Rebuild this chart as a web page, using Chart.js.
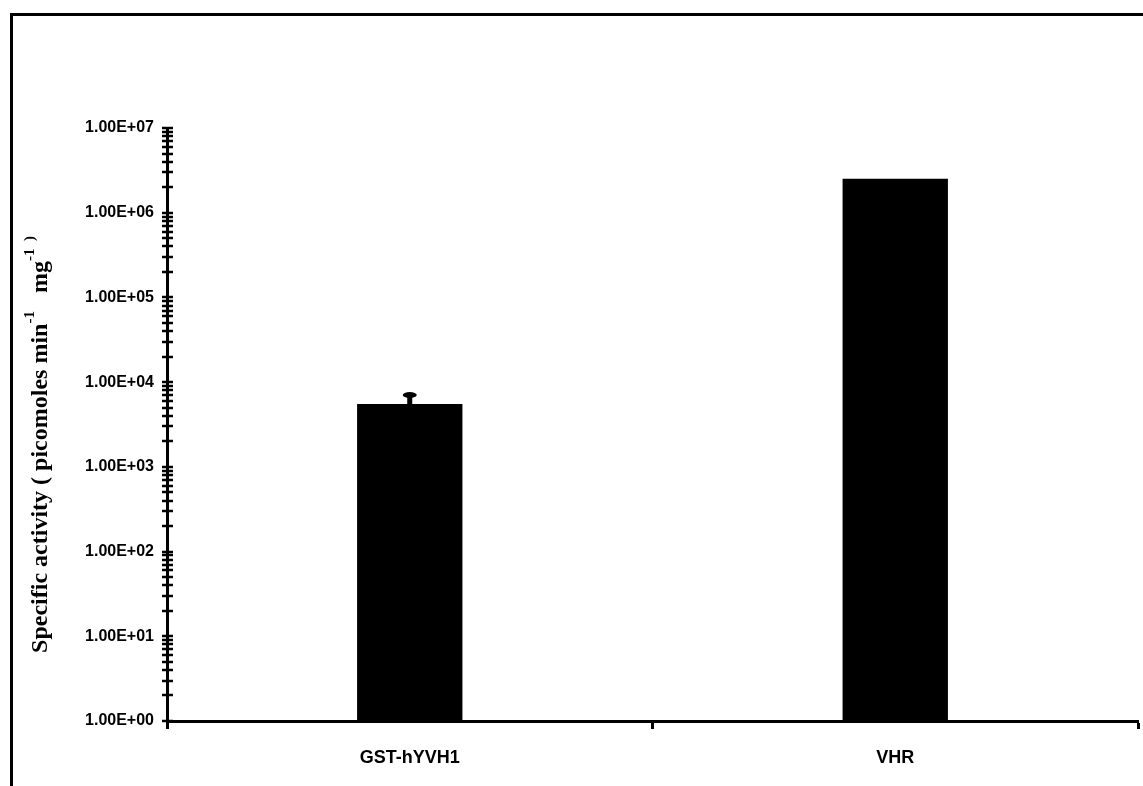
<!DOCTYPE html>
<html>
<head>
<meta charset="utf-8">
<script src="https://cdn.jsdelivr.net/npm/chart.js@4/dist/chart.umd.min.js"></script>
<style>
  html, body { margin: 0; padding: 0; background: #fff; }
  #wrap { width: 1143px; height: 786px; }
</style>
</head>
<body>
<div id="wrap"><canvas id="c"></canvas></div>
<script>
// data
const categories = ["GST-hYVH1", "VHR"];
const activity = [5520, 2510000];
const errorUp = [1530, 0];   // upper error bar only

const tickLabels = ["1.00E+00", "1.00E+01", "1.00E+02", "1.00E+03",
                    "1.00E+04", "1.00E+05", "1.00E+06", "1.00E+07"];
const minorSteps = [1, 2, 3, 4, 5, 6, 7, 8, 9];

// tick positions: 1..9 in every decade, then the top
const tickValues = [];
for (let e = 0; e < tickLabels.length - 1; e++) {
  minorSteps.forEach(m => tickValues.push(m * Math.pow(10, e)));
}
tickValues.push(Math.pow(10, tickLabels.length - 1));

function decadeIndex(v) {
  const k = Math.round(Math.log10(v));
  return Math.abs(v - Math.pow(10, k)) < 1e-9 * v ? k : -1;
}

// outer frame (top + left only, as in the scan)
const frame = {
  id: 'frame',
  beforeDraw(chart) {
    const ctx = chart.ctx;
    ctx.save();
    ctx.fillStyle = '#fff';
    ctx.fillRect(0, 0, chart.width, chart.height);
    ctx.fillStyle = '#000';
    ctx.fillRect(10, 13, chart.width - 10, 3);
    ctx.fillRect(10, 13, 3, chart.height - 13);
    ctx.restore();
  }
};

// excel style cross ticks on the y axis
const crossTicks = {
  id: 'crossTicks',
  afterDraw(chart) {
    const ctx = chart.ctx, y = chart.scales.y;
    const x0 = chart.chartArea.left;
    ctx.save();
    ctx.strokeStyle = '#000';
    ctx.lineWidth = 2.5;
    y.ticks.forEach(t => {
      const py = Math.round(y.getPixelForValue(t.value));
      ctx.beginPath();
      ctx.moveTo(x0 - 5, py);
      ctx.lineTo(x0 + 6, py);
      ctx.stroke();
    });
    ctx.restore();
  }
};

// error bars
const errorBars = {
  id: 'errorBars',
  afterDatasetsDraw(chart) {
    const ctx = chart.ctx, y = chart.scales.y;
    const meta = chart.getDatasetMeta(0);
    ctx.save();
    ctx.fillStyle = '#000';
    activity.forEach((v, i) => {
      if (!errorUp[i]) return;
      const x = meta.data[i].x;
      const yb = y.getPixelForValue(v);
      const yt = y.getPixelForValue(v + errorUp[i]);
      ctx.fillRect(x - 2.5, yt, 5, yb - yt);
      ctx.beginPath();
      ctx.ellipse(x, yt, 7, 3, 0, 0, Math.PI * 2);
      ctx.fill();
    });
    ctx.restore();
  }
};

// rotated y title with superscripts
const yTitle = {
  id: 'yTitle',
  afterDraw(chart) {
    const ctx = chart.ctx, a = chart.chartArea;
    const parts = [
      ["Specific activity ( picomoles min", false],
      ["-1", true],
      ["   mg", false],
      ["-1", true],
      ["  )", true]
    ];
    const big = 'bold 24px "Liberation Serif", "Times New Roman", serif';
    const small = 'bold 15px "Liberation Serif", "Times New Roman", serif';
    let total = 0;
    parts.forEach(p => { ctx.font = p[1] ? small : big; total += ctx.measureText(p[0]).width; });
    ctx.save();
    ctx.translate(47, (a.top + a.bottom) / 2 + 20);
    ctx.rotate(-Math.PI / 2);
    ctx.fillStyle = '#000';
    ctx.textBaseline = 'alphabetic';
    let x = -total / 2;
    parts.forEach(p => {
      ctx.font = p[1] ? small : big;
      ctx.fillText(p[0], x, p[1] ? -13 : 0);
      x += ctx.measureText(p[0]).width;
    });
    ctx.restore();
  }
};

new Chart(document.getElementById('c'), {
  type: 'bar',
  data: {
    labels: categories,
    datasets: [{
      data: activity,
      backgroundColor: '#000',
      borderWidth: 0,
      categoryPercentage: 1,
      barPercentage: 0.217
    }]
  },
  options: {
    responsive: true,
    maintainAspectRatio: false,
    animation: false,
    layout: { padding: { top: 128, right: 5, bottom: 0, left: 0 } },
    plugins: { legend: { display: false }, tooltip: { enabled: false } },
    scales: {
      x: {
        grid: { drawOnChartArea: false, offset: true, tickLength: 8, tickWidth: 3, tickColor: '#000' },
        border: { color: '#000', width: 3 },
        ticks: {
          color: '#000',
          padding: 18,
          font: { family: '"Liberation Sans", Arial, sans-serif', weight: 'bold', size: 18 }
        },
        afterFit(s) { s.height = 65; }
      },
      y: {
        type: 'logarithmic',
        min: 1,
        max: 1e7,
        grid: { drawOnChartArea: false, drawTicks: false },
        border: { color: '#000', width: 3 },
        afterBuildTicks(s) {
          s.ticks = tickValues.map(v => ({ value: v, major: decadeIndex(v) >= 0 }));
        },
        ticks: {
          autoSkip: false,
          padding: 13,
          color: '#000',
          font: { family: '"Liberation Sans", Arial, sans-serif', weight: 'bold', size: 16 },
          callback(v) {
            const k = decadeIndex(v);
            return k >= 0 ? tickLabels[k] : '';
          }
        },
        afterFit(s) { s.width = 167; }
      }
    }
  },
  plugins: [frame, errorBars, crossTicks, yTitle]
});
</script>
</body>
</html>
